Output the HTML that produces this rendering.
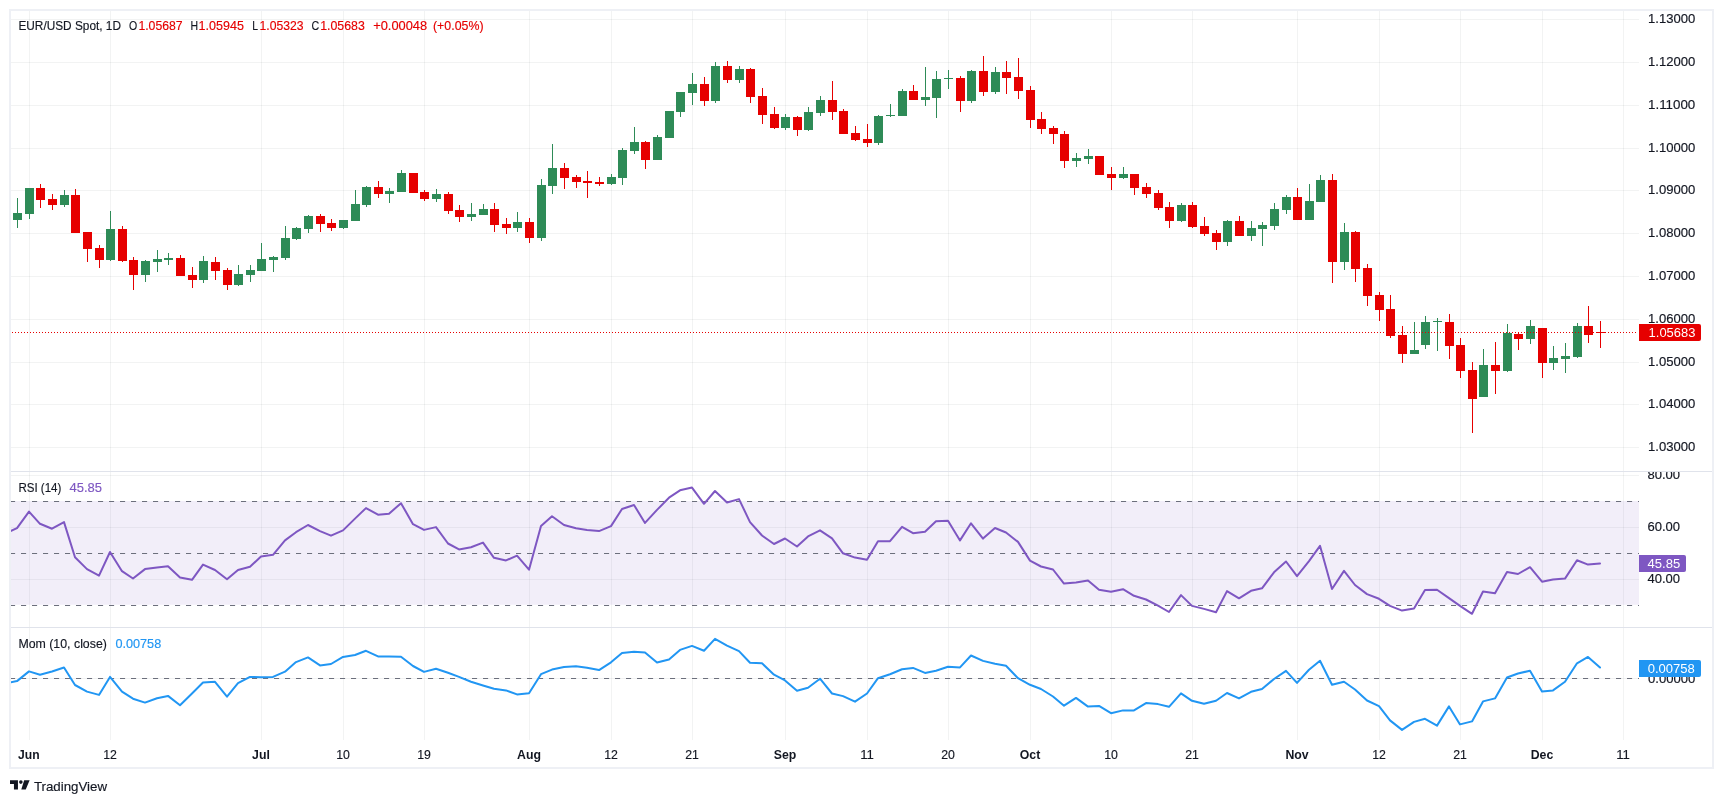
<!DOCTYPE html>
<html><head><meta charset="utf-8"><title>EUR/USD Spot</title>
<style>html,body{margin:0;padding:0;background:#fff;}body{width:1723px;height:803px;overflow:hidden;}svg{display:block;will-change:transform;}text{font-family:"Liberation Sans",sans-serif;}</style></head><body>
<svg width="1723" height="803" viewBox="0 0 1723 803">
<rect x="0" y="0" width="1723" height="803" fill="#ffffff"/>
<defs>
<clipPath id="cpMain"><rect x="11" y="11" width="1628" height="460"/></clipPath>
<clipPath id="cpRsi"><rect x="11" y="472" width="1628" height="155"/></clipPath>
<clipPath id="cpMom"><rect x="11" y="628" width="1628" height="112"/></clipPath>
<clipPath id="cpRsiAx"><rect x="1639" y="472" width="73" height="155"/></clipPath>
<clipPath id="cpMainAx"><rect x="1639" y="11" width="73" height="460"/></clipPath>
</defs>
<g fill="#2a2e39" fill-opacity="0.06" shape-rendering="crispEdges">
<rect x="29" y="11" width="1" height="729"/>
<rect x="110" y="11" width="1" height="729"/>
<rect x="261" y="11" width="1" height="729"/>
<rect x="343" y="11" width="1" height="729"/>
<rect x="424" y="11" width="1" height="729"/>
<rect x="529" y="11" width="1" height="729"/>
<rect x="611" y="11" width="1" height="729"/>
<rect x="692" y="11" width="1" height="729"/>
<rect x="785" y="11" width="1" height="729"/>
<rect x="867" y="11" width="1" height="729"/>
<rect x="948" y="11" width="1" height="729"/>
<rect x="1030" y="11" width="1" height="729"/>
<rect x="1111" y="11" width="1" height="729"/>
<rect x="1192" y="11" width="1" height="729"/>
<rect x="1297" y="11" width="1" height="729"/>
<rect x="1379" y="11" width="1" height="729"/>
<rect x="1460" y="11" width="1" height="729"/>
<rect x="1542" y="11" width="1" height="729"/>
<rect x="1623" y="11" width="1" height="729"/>
<rect x="11" y="19" width="1628" height="1"/>
<rect x="11" y="62" width="1628" height="1"/>
<rect x="11" y="105" width="1628" height="1"/>
<rect x="11" y="148" width="1628" height="1"/>
<rect x="11" y="190" width="1628" height="1"/>
<rect x="11" y="233" width="1628" height="1"/>
<rect x="11" y="276" width="1628" height="1"/>
<rect x="11" y="319" width="1628" height="1"/>
<rect x="11" y="362" width="1628" height="1"/>
<rect x="11" y="404" width="1628" height="1"/>
<rect x="11" y="447" width="1628" height="1"/>
<rect x="11" y="475" width="1628" height="1"/>
<rect x="11" y="527" width="1628" height="1"/>
<rect x="11" y="579" width="1628" height="1"/>
<rect x="11" y="678" width="1628" height="1"/>
</g>
<g clip-path="url(#cpMain)" shape-rendering="crispEdges">
<rect x="17" y="198" width="1" height="30" fill="#2e8b57"/>
<rect x="13" y="213" width="9" height="7" fill="#2e8b57"/>
<rect x="29" y="188" width="1" height="31" fill="#2e8b57"/>
<rect x="25" y="188" width="9" height="26" fill="#2e8b57"/>
<rect x="40" y="184" width="1" height="24" fill="#e60000"/>
<rect x="36" y="188" width="9" height="12" fill="#e60000"/>
<rect x="52" y="194" width="1" height="16" fill="#e60000"/>
<rect x="48" y="199" width="9" height="6" fill="#e60000"/>
<rect x="64" y="190" width="1" height="17" fill="#2e8b57"/>
<rect x="60" y="195" width="9" height="10" fill="#2e8b57"/>
<rect x="75" y="189" width="1" height="44" fill="#e60000"/>
<rect x="71" y="195" width="9" height="38" fill="#e60000"/>
<rect x="87" y="232" width="1" height="30" fill="#e60000"/>
<rect x="83" y="232" width="9" height="17" fill="#e60000"/>
<rect x="99" y="245" width="1" height="23" fill="#e60000"/>
<rect x="95" y="248" width="9" height="12" fill="#e60000"/>
<rect x="110" y="211" width="1" height="50" fill="#2e8b57"/>
<rect x="106" y="229" width="9" height="31" fill="#2e8b57"/>
<rect x="122" y="226" width="1" height="36" fill="#e60000"/>
<rect x="118" y="229" width="9" height="32" fill="#e60000"/>
<rect x="133" y="257" width="1" height="33" fill="#e60000"/>
<rect x="129" y="260" width="9" height="15" fill="#e60000"/>
<rect x="145" y="260" width="1" height="22" fill="#2e8b57"/>
<rect x="141" y="261" width="9" height="14" fill="#2e8b57"/>
<rect x="157" y="250" width="1" height="22" fill="#2e8b57"/>
<rect x="153" y="259" width="9" height="3" fill="#2e8b57"/>
<rect x="168" y="253" width="1" height="12" fill="#2e8b57"/>
<rect x="164" y="258" width="9" height="2" fill="#2e8b57"/>
<rect x="180" y="255" width="1" height="21" fill="#e60000"/>
<rect x="176" y="258" width="9" height="18" fill="#e60000"/>
<rect x="192" y="267" width="1" height="21" fill="#e60000"/>
<rect x="188" y="275" width="9" height="5" fill="#e60000"/>
<rect x="203" y="256" width="1" height="27" fill="#2e8b57"/>
<rect x="199" y="261" width="9" height="19" fill="#2e8b57"/>
<rect x="215" y="257" width="1" height="23" fill="#e60000"/>
<rect x="211" y="262" width="9" height="9" fill="#e60000"/>
<rect x="227" y="268" width="1" height="22" fill="#e60000"/>
<rect x="223" y="270" width="9" height="15" fill="#e60000"/>
<rect x="238" y="265" width="1" height="21" fill="#2e8b57"/>
<rect x="234" y="274" width="9" height="11" fill="#2e8b57"/>
<rect x="250" y="265" width="1" height="17" fill="#2e8b57"/>
<rect x="246" y="270" width="9" height="5" fill="#2e8b57"/>
<rect x="261" y="243" width="1" height="28" fill="#2e8b57"/>
<rect x="257" y="259" width="9" height="12" fill="#2e8b57"/>
<rect x="273" y="256" width="1" height="16" fill="#2e8b57"/>
<rect x="269" y="257" width="9" height="3" fill="#2e8b57"/>
<rect x="285" y="226" width="1" height="34" fill="#2e8b57"/>
<rect x="281" y="238" width="9" height="20" fill="#2e8b57"/>
<rect x="296" y="227" width="1" height="13" fill="#2e8b57"/>
<rect x="292" y="228" width="9" height="11" fill="#2e8b57"/>
<rect x="308" y="215" width="1" height="18" fill="#2e8b57"/>
<rect x="304" y="216" width="9" height="13" fill="#2e8b57"/>
<rect x="320" y="214" width="1" height="18" fill="#e60000"/>
<rect x="316" y="216" width="9" height="8" fill="#e60000"/>
<rect x="331" y="219" width="1" height="12" fill="#e60000"/>
<rect x="327" y="223" width="9" height="5" fill="#e60000"/>
<rect x="343" y="220" width="1" height="9" fill="#2e8b57"/>
<rect x="339" y="220" width="9" height="8" fill="#2e8b57"/>
<rect x="355" y="190" width="1" height="31" fill="#2e8b57"/>
<rect x="351" y="204" width="9" height="17" fill="#2e8b57"/>
<rect x="366" y="186" width="1" height="21" fill="#2e8b57"/>
<rect x="362" y="187" width="9" height="18" fill="#2e8b57"/>
<rect x="378" y="181" width="1" height="17" fill="#e60000"/>
<rect x="374" y="187" width="9" height="7" fill="#e60000"/>
<rect x="389" y="188" width="1" height="15" fill="#2e8b57"/>
<rect x="385" y="191" width="9" height="3" fill="#2e8b57"/>
<rect x="401" y="170" width="1" height="22" fill="#2e8b57"/>
<rect x="397" y="173" width="9" height="19" fill="#2e8b57"/>
<rect x="413" y="173" width="1" height="20" fill="#e60000"/>
<rect x="409" y="173" width="9" height="20" fill="#e60000"/>
<rect x="424" y="190" width="1" height="11" fill="#e60000"/>
<rect x="420" y="192" width="9" height="7" fill="#e60000"/>
<rect x="436" y="189" width="1" height="13" fill="#2e8b57"/>
<rect x="432" y="194" width="9" height="5" fill="#2e8b57"/>
<rect x="448" y="192" width="1" height="22" fill="#e60000"/>
<rect x="444" y="194" width="9" height="17" fill="#e60000"/>
<rect x="459" y="205" width="1" height="17" fill="#e60000"/>
<rect x="455" y="210" width="9" height="7" fill="#e60000"/>
<rect x="471" y="203" width="1" height="18" fill="#2e8b57"/>
<rect x="467" y="214" width="9" height="3" fill="#2e8b57"/>
<rect x="483" y="204" width="1" height="11" fill="#2e8b57"/>
<rect x="479" y="209" width="9" height="6" fill="#2e8b57"/>
<rect x="494" y="203" width="1" height="29" fill="#e60000"/>
<rect x="490" y="209" width="9" height="16" fill="#e60000"/>
<rect x="506" y="218" width="1" height="16" fill="#e60000"/>
<rect x="502" y="224" width="9" height="4" fill="#e60000"/>
<rect x="517" y="212" width="1" height="20" fill="#2e8b57"/>
<rect x="513" y="222" width="9" height="6" fill="#2e8b57"/>
<rect x="529" y="218" width="1" height="25" fill="#e60000"/>
<rect x="525" y="222" width="9" height="16" fill="#e60000"/>
<rect x="541" y="179" width="1" height="62" fill="#2e8b57"/>
<rect x="537" y="185" width="9" height="53" fill="#2e8b57"/>
<rect x="552" y="144" width="1" height="50" fill="#2e8b57"/>
<rect x="548" y="168" width="9" height="18" fill="#2e8b57"/>
<rect x="564" y="163" width="1" height="26" fill="#e60000"/>
<rect x="560" y="168" width="9" height="10" fill="#e60000"/>
<rect x="576" y="175" width="1" height="13" fill="#e60000"/>
<rect x="572" y="177" width="9" height="5" fill="#e60000"/>
<rect x="587" y="171" width="1" height="27" fill="#e60000"/>
<rect x="583" y="181" width="9" height="2" fill="#e60000"/>
<rect x="599" y="177" width="1" height="9" fill="#e60000"/>
<rect x="595" y="182" width="9" height="2" fill="#e60000"/>
<rect x="611" y="174" width="1" height="11" fill="#2e8b57"/>
<rect x="607" y="177" width="9" height="7" fill="#2e8b57"/>
<rect x="622" y="148" width="1" height="37" fill="#2e8b57"/>
<rect x="618" y="150" width="9" height="28" fill="#2e8b57"/>
<rect x="634" y="127" width="1" height="27" fill="#2e8b57"/>
<rect x="630" y="142" width="9" height="9" fill="#2e8b57"/>
<rect x="645" y="141" width="1" height="28" fill="#e60000"/>
<rect x="641" y="142" width="9" height="18" fill="#e60000"/>
<rect x="657" y="135" width="1" height="25" fill="#2e8b57"/>
<rect x="653" y="137" width="9" height="23" fill="#2e8b57"/>
<rect x="669" y="111" width="1" height="27" fill="#2e8b57"/>
<rect x="665" y="111" width="9" height="27" fill="#2e8b57"/>
<rect x="680" y="92" width="1" height="25" fill="#2e8b57"/>
<rect x="676" y="92" width="9" height="20" fill="#2e8b57"/>
<rect x="692" y="73" width="1" height="32" fill="#2e8b57"/>
<rect x="688" y="84" width="9" height="9" fill="#2e8b57"/>
<rect x="704" y="77" width="1" height="29" fill="#e60000"/>
<rect x="700" y="84" width="9" height="17" fill="#e60000"/>
<rect x="715" y="62" width="1" height="41" fill="#2e8b57"/>
<rect x="711" y="66" width="9" height="35" fill="#2e8b57"/>
<rect x="727" y="61" width="1" height="22" fill="#e60000"/>
<rect x="723" y="66" width="9" height="14" fill="#e60000"/>
<rect x="739" y="66" width="1" height="17" fill="#2e8b57"/>
<rect x="735" y="69" width="9" height="11" fill="#2e8b57"/>
<rect x="750" y="68" width="1" height="35" fill="#e60000"/>
<rect x="746" y="69" width="9" height="28" fill="#e60000"/>
<rect x="762" y="88" width="1" height="36" fill="#e60000"/>
<rect x="758" y="96" width="9" height="19" fill="#e60000"/>
<rect x="774" y="107" width="1" height="22" fill="#e60000"/>
<rect x="770" y="114" width="9" height="14" fill="#e60000"/>
<rect x="785" y="114" width="1" height="16" fill="#2e8b57"/>
<rect x="781" y="117" width="9" height="11" fill="#2e8b57"/>
<rect x="797" y="116" width="1" height="20" fill="#e60000"/>
<rect x="793" y="117" width="9" height="13" fill="#e60000"/>
<rect x="808" y="107" width="1" height="24" fill="#2e8b57"/>
<rect x="804" y="112" width="9" height="18" fill="#2e8b57"/>
<rect x="820" y="96" width="1" height="20" fill="#2e8b57"/>
<rect x="816" y="100" width="9" height="13" fill="#2e8b57"/>
<rect x="832" y="81" width="1" height="39" fill="#e60000"/>
<rect x="828" y="100" width="9" height="12" fill="#e60000"/>
<rect x="843" y="109" width="1" height="25" fill="#e60000"/>
<rect x="839" y="111" width="9" height="23" fill="#e60000"/>
<rect x="855" y="126" width="1" height="15" fill="#e60000"/>
<rect x="851" y="133" width="9" height="7" fill="#e60000"/>
<rect x="867" y="124" width="1" height="23" fill="#e60000"/>
<rect x="863" y="139" width="9" height="4" fill="#e60000"/>
<rect x="878" y="115" width="1" height="30" fill="#2e8b57"/>
<rect x="874" y="116" width="9" height="27" fill="#2e8b57"/>
<rect x="890" y="104" width="1" height="13" fill="#2e8b57"/>
<rect x="886" y="115" width="9" height="1" fill="#2e8b57"/>
<rect x="902" y="89" width="1" height="27" fill="#2e8b57"/>
<rect x="898" y="91" width="9" height="25" fill="#2e8b57"/>
<rect x="913" y="85" width="1" height="15" fill="#e60000"/>
<rect x="909" y="91" width="9" height="9" fill="#e60000"/>
<rect x="925" y="67" width="1" height="39" fill="#2e8b57"/>
<rect x="921" y="97" width="9" height="3" fill="#2e8b57"/>
<rect x="936" y="71" width="1" height="47" fill="#2e8b57"/>
<rect x="932" y="79" width="9" height="19" fill="#2e8b57"/>
<rect x="948" y="70" width="1" height="19" fill="#2e8b57"/>
<rect x="944" y="78" width="9" height="1" fill="#2e8b57"/>
<rect x="960" y="76" width="1" height="36" fill="#e60000"/>
<rect x="956" y="78" width="9" height="23" fill="#e60000"/>
<rect x="971" y="70" width="1" height="33" fill="#2e8b57"/>
<rect x="967" y="71" width="9" height="30" fill="#2e8b57"/>
<rect x="983" y="56" width="1" height="40" fill="#e60000"/>
<rect x="979" y="71" width="9" height="21" fill="#e60000"/>
<rect x="995" y="67" width="1" height="27" fill="#2e8b57"/>
<rect x="991" y="72" width="9" height="20" fill="#2e8b57"/>
<rect x="1006" y="61" width="1" height="33" fill="#e60000"/>
<rect x="1002" y="72" width="9" height="6" fill="#e60000"/>
<rect x="1018" y="58" width="1" height="41" fill="#e60000"/>
<rect x="1014" y="77" width="9" height="14" fill="#e60000"/>
<rect x="1030" y="86" width="1" height="42" fill="#e60000"/>
<rect x="1026" y="90" width="9" height="30" fill="#e60000"/>
<rect x="1041" y="112" width="1" height="22" fill="#e60000"/>
<rect x="1037" y="119" width="9" height="10" fill="#e60000"/>
<rect x="1053" y="126" width="1" height="18" fill="#e60000"/>
<rect x="1049" y="128" width="9" height="6" fill="#e60000"/>
<rect x="1064" y="131" width="1" height="37" fill="#e60000"/>
<rect x="1060" y="134" width="9" height="27" fill="#e60000"/>
<rect x="1076" y="153" width="1" height="14" fill="#2e8b57"/>
<rect x="1072" y="158" width="9" height="3" fill="#2e8b57"/>
<rect x="1088" y="149" width="1" height="15" fill="#2e8b57"/>
<rect x="1084" y="156" width="9" height="3" fill="#2e8b57"/>
<rect x="1099" y="156" width="1" height="19" fill="#e60000"/>
<rect x="1095" y="156" width="9" height="19" fill="#e60000"/>
<rect x="1111" y="167" width="1" height="23" fill="#e60000"/>
<rect x="1107" y="174" width="9" height="4" fill="#e60000"/>
<rect x="1123" y="167" width="1" height="12" fill="#2e8b57"/>
<rect x="1119" y="174" width="9" height="4" fill="#2e8b57"/>
<rect x="1134" y="174" width="1" height="21" fill="#e60000"/>
<rect x="1130" y="174" width="9" height="14" fill="#e60000"/>
<rect x="1146" y="183" width="1" height="15" fill="#e60000"/>
<rect x="1142" y="187" width="9" height="7" fill="#e60000"/>
<rect x="1158" y="190" width="1" height="20" fill="#e60000"/>
<rect x="1154" y="193" width="9" height="15" fill="#e60000"/>
<rect x="1169" y="202" width="1" height="26" fill="#e60000"/>
<rect x="1165" y="207" width="9" height="14" fill="#e60000"/>
<rect x="1181" y="203" width="1" height="19" fill="#2e8b57"/>
<rect x="1177" y="205" width="9" height="16" fill="#2e8b57"/>
<rect x="1192" y="202" width="1" height="26" fill="#e60000"/>
<rect x="1188" y="205" width="9" height="22" fill="#e60000"/>
<rect x="1204" y="217" width="1" height="19" fill="#e60000"/>
<rect x="1200" y="226" width="9" height="8" fill="#e60000"/>
<rect x="1216" y="230" width="1" height="20" fill="#e60000"/>
<rect x="1212" y="233" width="9" height="9" fill="#e60000"/>
<rect x="1227" y="220" width="1" height="26" fill="#2e8b57"/>
<rect x="1223" y="221" width="9" height="21" fill="#2e8b57"/>
<rect x="1239" y="216" width="1" height="20" fill="#e60000"/>
<rect x="1235" y="221" width="9" height="15" fill="#e60000"/>
<rect x="1251" y="221" width="1" height="20" fill="#2e8b57"/>
<rect x="1247" y="228" width="9" height="8" fill="#2e8b57"/>
<rect x="1262" y="222" width="1" height="24" fill="#2e8b57"/>
<rect x="1258" y="225" width="9" height="4" fill="#2e8b57"/>
<rect x="1274" y="203" width="1" height="27" fill="#2e8b57"/>
<rect x="1270" y="209" width="9" height="17" fill="#2e8b57"/>
<rect x="1286" y="195" width="1" height="19" fill="#2e8b57"/>
<rect x="1282" y="197" width="9" height="13" fill="#2e8b57"/>
<rect x="1297" y="188" width="1" height="32" fill="#e60000"/>
<rect x="1293" y="197" width="9" height="23" fill="#e60000"/>
<rect x="1309" y="184" width="1" height="36" fill="#2e8b57"/>
<rect x="1305" y="201" width="9" height="19" fill="#2e8b57"/>
<rect x="1320" y="175" width="1" height="27" fill="#2e8b57"/>
<rect x="1316" y="180" width="9" height="22" fill="#2e8b57"/>
<rect x="1332" y="174" width="1" height="109" fill="#e60000"/>
<rect x="1328" y="180" width="9" height="82" fill="#e60000"/>
<rect x="1344" y="223" width="1" height="47" fill="#2e8b57"/>
<rect x="1340" y="232" width="9" height="30" fill="#2e8b57"/>
<rect x="1355" y="231" width="1" height="51" fill="#e60000"/>
<rect x="1351" y="232" width="9" height="37" fill="#e60000"/>
<rect x="1367" y="264" width="1" height="42" fill="#e60000"/>
<rect x="1363" y="268" width="9" height="28" fill="#e60000"/>
<rect x="1379" y="292" width="1" height="29" fill="#e60000"/>
<rect x="1375" y="295" width="9" height="15" fill="#e60000"/>
<rect x="1390" y="295" width="1" height="43" fill="#e60000"/>
<rect x="1386" y="309" width="9" height="27" fill="#e60000"/>
<rect x="1402" y="326" width="1" height="37" fill="#e60000"/>
<rect x="1398" y="335" width="9" height="19" fill="#e60000"/>
<rect x="1414" y="322" width="1" height="32" fill="#2e8b57"/>
<rect x="1410" y="350" width="9" height="4" fill="#2e8b57"/>
<rect x="1425" y="316" width="1" height="33" fill="#2e8b57"/>
<rect x="1421" y="322" width="9" height="23" fill="#2e8b57"/>
<rect x="1437" y="318" width="1" height="33" fill="#2e8b57"/>
<rect x="1433" y="321" width="9" height="1" fill="#2e8b57"/>
<rect x="1449" y="314" width="1" height="45" fill="#e60000"/>
<rect x="1445" y="322" width="9" height="24" fill="#e60000"/>
<rect x="1460" y="338" width="1" height="40" fill="#e60000"/>
<rect x="1456" y="345" width="9" height="26" fill="#e60000"/>
<rect x="1472" y="362" width="1" height="71" fill="#e60000"/>
<rect x="1468" y="370" width="9" height="29" fill="#e60000"/>
<rect x="1483" y="349" width="1" height="48" fill="#2e8b57"/>
<rect x="1479" y="365" width="9" height="32" fill="#2e8b57"/>
<rect x="1495" y="342" width="1" height="52" fill="#e60000"/>
<rect x="1491" y="365" width="9" height="6" fill="#e60000"/>
<rect x="1507" y="324" width="1" height="48" fill="#2e8b57"/>
<rect x="1503" y="333" width="9" height="38" fill="#2e8b57"/>
<rect x="1518" y="332" width="1" height="18" fill="#e60000"/>
<rect x="1514" y="334" width="9" height="5" fill="#e60000"/>
<rect x="1530" y="320" width="1" height="24" fill="#2e8b57"/>
<rect x="1526" y="326" width="9" height="13" fill="#2e8b57"/>
<rect x="1542" y="328" width="1" height="50" fill="#e60000"/>
<rect x="1538" y="328" width="9" height="35" fill="#e60000"/>
<rect x="1553" y="346" width="1" height="24" fill="#2e8b57"/>
<rect x="1549" y="358" width="9" height="5" fill="#2e8b57"/>
<rect x="1565" y="343" width="1" height="30" fill="#2e8b57"/>
<rect x="1561" y="356" width="9" height="3" fill="#2e8b57"/>
<rect x="1577" y="323" width="1" height="35" fill="#2e8b57"/>
<rect x="1573" y="326" width="9" height="31" fill="#2e8b57"/>
<rect x="1588" y="306" width="1" height="37" fill="#e60000"/>
<rect x="1584" y="326" width="9" height="9" fill="#e60000"/>
<rect x="1600" y="321" width="1" height="27" fill="#e60000"/>
<rect x="1596" y="332" width="9" height="1" fill="#e60000"/>
</g>
<line x1="12" y1="332.5" x2="1637" y2="332.5" stroke="#e60000" stroke-width="1" stroke-dasharray="1 2" shape-rendering="crispEdges"/>
<rect x="11" y="501" width="1628" height="103.8" fill="#7e57c2" fill-opacity="0.1"/>
<line x1="10" y1="501.5" x2="1639" y2="501.5" stroke="#6c6f7c" stroke-width="1.1" stroke-dasharray="5.1 5.9" stroke-dashoffset="0"/>
<line x1="10" y1="553.5" x2="1639" y2="553.5" stroke="#6c6f7c" stroke-width="1.1" stroke-dasharray="5.1 5.9" stroke-dashoffset="0"/>
<line x1="10" y1="605.5" x2="1639" y2="605.5" stroke="#6c6f7c" stroke-width="1.1" stroke-dasharray="5.1 5.9" stroke-dashoffset="0"/>
<polyline clip-path="url(#cpRsi)" points="5,533.7 17,528.2 29,511.6 40,523.8 52,528.7 64,522.1 75,557.3 87,569.1 99,575.6 110,552.0 122,571.2 133,578.5 145,569.1 157,567.4 168,566.3 180,577.5 192,579.8 203,564.6 215,570.0 227,579.2 238,570.0 250,566.7 261,556.6 273,554.8 285,540.4 296,532.2 308,525.0 320,531.1 331,535.7 343,530.4 355,518.6 366,508.1 378,514.7 389,513.7 401,503.2 413,524.2 424,529.9 436,527.1 448,543.5 459,549.4 471,547.3 483,542.6 494,557.8 506,560.4 517,555.7 529,569.7 541,526.1 552,516.3 564,525.0 576,528.3 587,529.9 599,531.1 611,526.1 622,509.0 634,505.0 645,522.9 657,509.9 669,497.7 680,490.3 692,487.6 704,503.8 715,491.0 727,502.5 739,499.1 750,522.1 762,535.5 774,544.0 785,538.5 797,546.5 808,536.4 820,530.3 832,538.3 843,553.3 855,557.6 867,559.7 878,541.2 890,541.2 902,526.8 913,533.2 925,531.8 936,521.2 948,520.7 960,540.4 971,523.3 983,538.6 995,528.0 1006,532.5 1018,541.9 1030,560.6 1041,566.5 1053,569.5 1064,583.6 1076,582.4 1088,580.5 1099,589.7 1111,591.8 1123,589.2 1134,595.8 1146,599.5 1158,605.6 1169,612.0 1181,595.1 1192,605.9 1204,608.9 1216,612.2 1227,591.1 1239,598.3 1251,590.8 1262,588.3 1274,572.3 1286,561.5 1297,576.1 1309,561.1 1320,545.8 1332,589.0 1344,570.9 1355,585.0 1367,594.1 1379,598.8 1390,605.9 1402,610.6 1414,608.5 1425,589.9 1437,589.7 1449,598.1 1460,605.9 1472,613.8 1483,591.5 1495,593.2 1507,571.9 1518,574.0 1530,567.2 1542,581.7 1553,579.4 1565,578.6 1577,560.2 1588,564.6 1600,563.4" fill="none" stroke="#7e57c2" stroke-width="2" stroke-linejoin="round" stroke-linecap="round"/>
<line x1="10" y1="678.5" x2="1639" y2="678.5" stroke="#6c6f7c" stroke-width="1.1" stroke-dasharray="5.1 5.9"/>
<polyline clip-path="url(#cpMom)" points="5,683.4 17,681.1 29,671.4 40,674.7 52,671.5 64,667.5 75,685.0 87,691.6 99,694.9 110,676.9 122,691.6 133,698.7 145,702.6 157,698.2 168,695.9 180,705.2 192,693.5 203,682.5 215,681.8 227,696.6 238,683.2 250,676.9 261,677.3 273,676.9 285,671.7 296,662.1 308,657.4 320,665.4 331,664.0 343,656.9 355,655.0 366,650.8 378,656.4 389,656.4 401,656.7 413,666.0 424,671.9 436,668.8 448,672.8 459,676.9 471,681.7 483,685.5 494,688.8 506,690.4 517,694.4 529,693.2 541,674.2 552,669.6 564,667.0 576,666.3 587,667.7 599,670.1 611,662.3 622,652.9 634,651.7 645,652.4 657,662.5 669,659.5 680,649.9 692,645.9 704,650.8 715,638.9 727,645.6 739,651.1 750,662.8 762,663.3 774,674.7 785,680.4 797,690.7 808,687.8 820,678.7 832,693.5 843,696.1 855,701.7 867,693.5 878,678.2 890,674.2 902,669.3 913,667.9 925,672.9 936,670.7 948,666.8 960,667.4 971,655.5 983,660.9 995,663.7 1006,665.8 1018,678.2 1030,684.8 1041,689.0 1053,696.5 1064,705.7 1076,697.9 1088,706.6 1099,705.9 1111,713.2 1123,710.4 1134,710.4 1146,703.1 1158,704.1 1169,706.8 1181,693.3 1192,700.8 1204,703.8 1216,700.7 1227,693.0 1239,698.4 1251,691.8 1262,689.0 1274,679.0 1286,670.8 1297,682.9 1309,669.8 1320,660.7 1332,684.8 1344,681.8 1355,689.5 1367,700.5 1379,706.1 1390,720.4 1402,729.9 1414,721.9 1425,718.8 1437,725.6 1449,706.4 1460,724.4 1472,721.4 1483,701.4 1495,698.4 1507,677.5 1518,673.5 1530,670.7 1542,691.4 1553,690.4 1565,681.8 1577,663.3 1588,656.9 1600,667.5" fill="none" stroke="#2196f3" stroke-width="2" stroke-linejoin="round" stroke-linecap="round"/>
<g shape-rendering="crispEdges">
<rect x="11" y="471" width="1701" height="1" fill="#e0e3eb"/>
<rect x="11" y="627" width="1701" height="1" fill="#e0e3eb"/>
<rect x="10" y="10" width="1703" height="758" fill="none" stroke="#eef0f5" stroke-width="2"/>
</g>
<g clip-path="url(#cpMainAx)">
<text x="1648" y="23" font-size="12.3" fill="#131722" textLength="47.3" lengthAdjust="spacingAndGlyphs" stroke="#131722" stroke-width="0.15">1.13000</text>
<text x="1648" y="66" font-size="12.3" fill="#131722" textLength="47.3" lengthAdjust="spacingAndGlyphs" stroke="#131722" stroke-width="0.15">1.12000</text>
<text x="1648" y="109" font-size="12.3" fill="#131722" textLength="47.3" lengthAdjust="spacingAndGlyphs" stroke="#131722" stroke-width="0.15">1.11000</text>
<text x="1648" y="152" font-size="12.3" fill="#131722" textLength="47.3" lengthAdjust="spacingAndGlyphs" stroke="#131722" stroke-width="0.15">1.10000</text>
<text x="1648" y="194" font-size="12.3" fill="#131722" textLength="47.3" lengthAdjust="spacingAndGlyphs" stroke="#131722" stroke-width="0.15">1.09000</text>
<text x="1648" y="237" font-size="12.3" fill="#131722" textLength="47.3" lengthAdjust="spacingAndGlyphs" stroke="#131722" stroke-width="0.15">1.08000</text>
<text x="1648" y="280" font-size="12.3" fill="#131722" textLength="47.3" lengthAdjust="spacingAndGlyphs" stroke="#131722" stroke-width="0.15">1.07000</text>
<text x="1648" y="323" font-size="12.3" fill="#131722" textLength="47.3" lengthAdjust="spacingAndGlyphs" stroke="#131722" stroke-width="0.15">1.06000</text>
<text x="1648" y="366" font-size="12.3" fill="#131722" textLength="47.3" lengthAdjust="spacingAndGlyphs" stroke="#131722" stroke-width="0.15">1.05000</text>
<text x="1648" y="408" font-size="12.3" fill="#131722" textLength="47.3" lengthAdjust="spacingAndGlyphs" stroke="#131722" stroke-width="0.15">1.04000</text>
<text x="1648" y="451" font-size="12.3" fill="#131722" textLength="47.3" lengthAdjust="spacingAndGlyphs" stroke="#131722" stroke-width="0.15">1.03000</text>
</g>
<g clip-path="url(#cpRsiAx)">
<text x="1647.5" y="479" font-size="12.3" fill="#131722" textLength="32.6" lengthAdjust="spacingAndGlyphs" stroke="#131722" stroke-width="0.15">80.00</text>
<text x="1647.5" y="531" font-size="12.3" fill="#131722" textLength="32.6" lengthAdjust="spacingAndGlyphs" stroke="#131722" stroke-width="0.15">60.00</text>
<text x="1647.5" y="582.9" font-size="12.3" fill="#131722" textLength="32.6" lengthAdjust="spacingAndGlyphs" stroke="#131722" stroke-width="0.15">40.00</text>
</g>
<text x="1648" y="682.9" font-size="12.3" fill="#131722" textLength="47.3" lengthAdjust="spacingAndGlyphs" stroke="#131722" stroke-width="0.15">0.00000</text>
<path d="M1639 324H1699a2 2 0 0 1 2 2V339a2 2 0 0 1 -2 2H1639Z" fill="#e60000"/>
<text x="1648.6" y="337" font-size="12.3" fill="#ffffff" textLength="46.8" lengthAdjust="spacingAndGlyphs">1.05683</text>
<path d="M1639 555H1684a2 2 0 0 1 2 2V570a2 2 0 0 1 -2 2H1639Z" fill="#7e57c2"/>
<text x="1647.5" y="567.8" font-size="12.3" fill="#ffffff" textLength="32.7" lengthAdjust="spacingAndGlyphs">45.85</text>
<path d="M1639 660H1699a2 2 0 0 1 2 2V675a2 2 0 0 1 -2 2H1639Z" fill="#2196f3"/>
<text x="1647.7" y="672.7" font-size="12.3" fill="#ffffff" textLength="47.2" lengthAdjust="spacingAndGlyphs">0.00758</text>
<text x="18" y="759" font-size="12.3" fill="#131722" font-weight="bold" textLength="21.6" lengthAdjust="spacingAndGlyphs">Jun</text>
<text x="110" y="759" font-size="12.3" fill="#131722" text-anchor="middle" textLength="13.7" lengthAdjust="spacingAndGlyphs" stroke="#131722" stroke-width="0.15">12</text>
<text x="261" y="759" font-size="12.3" fill="#131722" text-anchor="middle" font-weight="bold">Jul</text>
<text x="343" y="759" font-size="12.3" fill="#131722" text-anchor="middle" textLength="13.7" lengthAdjust="spacingAndGlyphs" stroke="#131722" stroke-width="0.15">10</text>
<text x="424" y="759" font-size="12.3" fill="#131722" text-anchor="middle" textLength="13.7" lengthAdjust="spacingAndGlyphs" stroke="#131722" stroke-width="0.15">19</text>
<text x="529" y="759" font-size="12.3" fill="#131722" text-anchor="middle" font-weight="bold">Aug</text>
<text x="611" y="759" font-size="12.3" fill="#131722" text-anchor="middle" textLength="13.7" lengthAdjust="spacingAndGlyphs" stroke="#131722" stroke-width="0.15">12</text>
<text x="692" y="759" font-size="12.3" fill="#131722" text-anchor="middle" textLength="13.7" lengthAdjust="spacingAndGlyphs" stroke="#131722" stroke-width="0.15">21</text>
<text x="785" y="759" font-size="12.3" fill="#131722" text-anchor="middle" font-weight="bold">Sep</text>
<text x="867" y="759" font-size="12.3" fill="#131722" text-anchor="middle" textLength="13.7" lengthAdjust="spacingAndGlyphs" stroke="#131722" stroke-width="0.15">11</text>
<text x="948" y="759" font-size="12.3" fill="#131722" text-anchor="middle" textLength="13.7" lengthAdjust="spacingAndGlyphs" stroke="#131722" stroke-width="0.15">20</text>
<text x="1030" y="759" font-size="12.3" fill="#131722" text-anchor="middle" font-weight="bold">Oct</text>
<text x="1111" y="759" font-size="12.3" fill="#131722" text-anchor="middle" textLength="13.7" lengthAdjust="spacingAndGlyphs" stroke="#131722" stroke-width="0.15">10</text>
<text x="1192" y="759" font-size="12.3" fill="#131722" text-anchor="middle" textLength="13.7" lengthAdjust="spacingAndGlyphs" stroke="#131722" stroke-width="0.15">21</text>
<text x="1297" y="759" font-size="12.3" fill="#131722" text-anchor="middle" font-weight="bold">Nov</text>
<text x="1379" y="759" font-size="12.3" fill="#131722" text-anchor="middle" textLength="13.7" lengthAdjust="spacingAndGlyphs" stroke="#131722" stroke-width="0.15">12</text>
<text x="1460" y="759" font-size="12.3" fill="#131722" text-anchor="middle" textLength="13.7" lengthAdjust="spacingAndGlyphs" stroke="#131722" stroke-width="0.15">21</text>
<text x="1542" y="759" font-size="12.3" fill="#131722" text-anchor="middle" font-weight="bold">Dec</text>
<text x="1623" y="759" font-size="12.3" fill="#131722" text-anchor="middle" textLength="13.7" lengthAdjust="spacingAndGlyphs" stroke="#131722" stroke-width="0.15">11</text>
<text x="18.4" y="30.1" font-size="12.6" fill="#131722" textLength="102.6" lengthAdjust="spacingAndGlyphs" stroke="#131722" stroke-width="0.15">EUR/USD Spot, 1D</text>
<text x="129" y="30.1" font-size="12.6" fill="#131722" textLength="8.2" lengthAdjust="spacingAndGlyphs" stroke="#131722" stroke-width="0.15">O</text>
<text x="138.4" y="30.1" font-size="12.6" fill="#e60000" textLength="44.3" lengthAdjust="spacingAndGlyphs" stroke="#e60000" stroke-width="0.15">1.05687</text>
<text x="190.4" y="30.1" font-size="12.6" fill="#131722" textLength="7.6" lengthAdjust="spacingAndGlyphs" stroke="#131722" stroke-width="0.15">H</text>
<text x="198.6" y="30.1" font-size="12.6" fill="#e60000" textLength="45.3" lengthAdjust="spacingAndGlyphs" stroke="#e60000" stroke-width="0.15">1.05945</text>
<text x="252.3" y="30.1" font-size="12.6" fill="#131722" textLength="5.8" lengthAdjust="spacingAndGlyphs" stroke="#131722" stroke-width="0.15">L</text>
<text x="259.6" y="30.1" font-size="12.6" fill="#e60000" textLength="44" lengthAdjust="spacingAndGlyphs" stroke="#e60000" stroke-width="0.15">1.05323</text>
<text x="311.4" y="30.1" font-size="12.6" fill="#131722" textLength="7.7" lengthAdjust="spacingAndGlyphs" stroke="#131722" stroke-width="0.15">C</text>
<text x="320.2" y="30.1" font-size="12.6" fill="#e60000" textLength="44.6" lengthAdjust="spacingAndGlyphs" stroke="#e60000" stroke-width="0.15">1.05683</text>
<text x="373.2" y="30.1" font-size="12.6" fill="#e60000" textLength="54" lengthAdjust="spacingAndGlyphs" stroke="#e60000" stroke-width="0.15">+0.00048</text>
<text x="433" y="30.1" font-size="12.6" fill="#e60000" textLength="50.5" lengthAdjust="spacingAndGlyphs" stroke="#e60000" stroke-width="0.15">(+0.05%)</text>
<text x="18.4" y="491.8" font-size="12.6" fill="#131722" textLength="43" lengthAdjust="spacingAndGlyphs" stroke="#131722" stroke-width="0.15">RSI (14)</text>
<text x="69.5" y="491.8" font-size="12.6" fill="#7e57c2" textLength="32.5" lengthAdjust="spacingAndGlyphs" stroke="#7e57c2" stroke-width="0.15">45.85</text>
<text x="18.4" y="647.8" font-size="12.6" fill="#131722" textLength="88.5" lengthAdjust="spacingAndGlyphs" stroke="#131722" stroke-width="0.15">Mom (10, close)</text>
<text x="115.4" y="647.8" font-size="12.6" fill="#2196f3" textLength="45.8" lengthAdjust="spacingAndGlyphs" stroke="#2196f3" stroke-width="0.15">0.00758</text>
<g fill="#131722">
<path d="M10 780.2H17.95V789.6H13.95V784H10Z"/>
<circle cx="20.85" cy="782.1" r="1.8"/>
<path d="M24.2 780.2H29.6L25.75 789.6H21.3Z"/>
</g>
<text x="33.9" y="790.9" font-size="13.2" fill="#131722" textLength="73.2" lengthAdjust="spacingAndGlyphs" stroke="#131722" stroke-width="0.15">TradingView</text>
</svg></body></html>
